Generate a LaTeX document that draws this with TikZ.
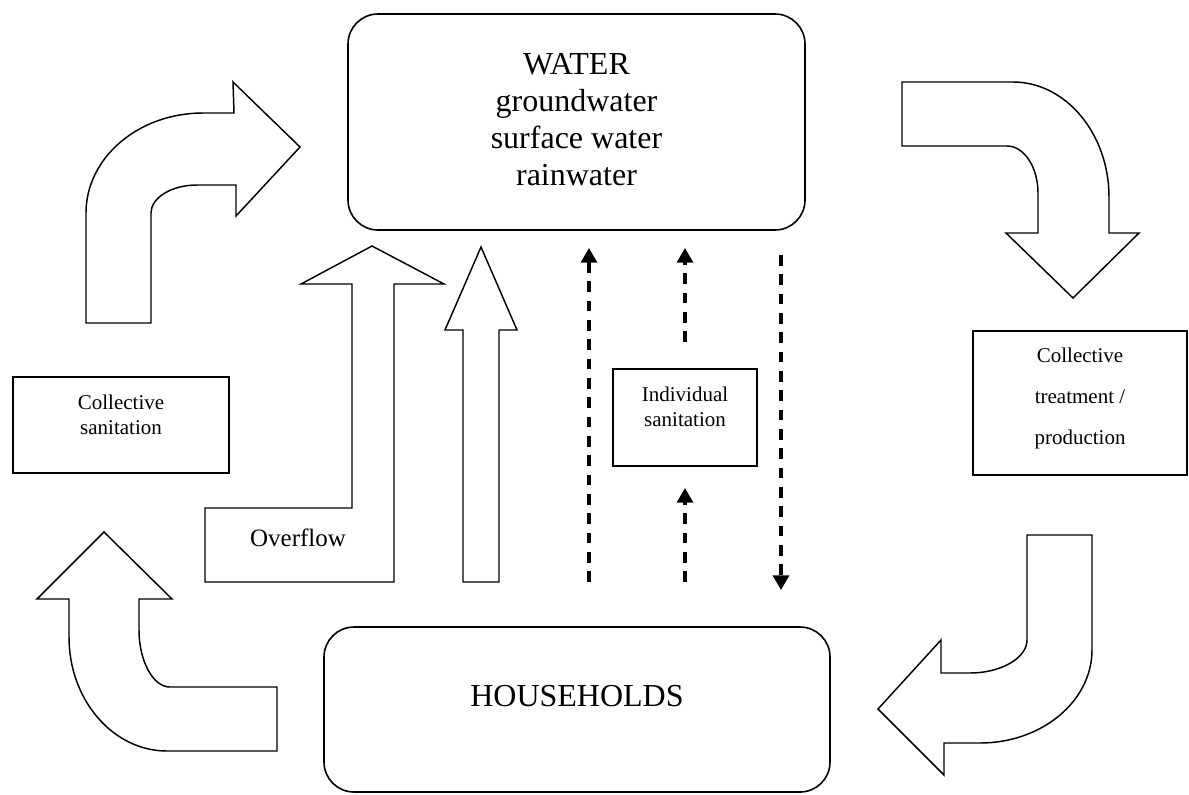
\documentclass[tikz,border=0pt]{standalone}
\usepackage{fontspec}
\setmainfont{Liberation Serif}
\usetikzlibrary{arrows.meta}
\begin{document}
\begin{tikzpicture}[x=0.75pt,y=-0.75pt,
  blockarrow/.style={draw=black, line width=1.1pt, line join=miter, fill=white},
  plainbox/.style={draw=black, line width=1.2pt, rectangle, inner sep=0pt},
  roundbox/.style={plainbox, rounded corners=22.5pt},
  bigtext/.style={font=\fontsize{24}{27.75}\selectfont, align=center, inner sep=0pt},
  midtext/.style={font=\fontsize{18.75}{22}\selectfont, inner sep=0pt},
  smalltext/.style={font=\fontsize{15.75}{18.75}\selectfont, align=center, inner sep=0pt},
  widetext/.style={font=\fontsize{15.75}{30.75}\selectfont, align=center, inner sep=0pt},
  dashflow/.style={line width=2.5pt, dash pattern=on 8pt off 6.5pt, -{Triangle[width=12pt,length=11pt]}}
]
\useasboundingbox (0,0) rectangle (1189,794);

% boxes
\node[roundbox, minimum width=342.75pt, minimum height=162pt] (water) at (576.5,122) {};
\node[bigtext] (watertext) at (576.5,120) {WATER\\groundwater\\surface water\\rainwater};

\node[roundbox, minimum width=379.5pt, minimum height=123.75pt] (households) at (577,709.5) {};
\node[bigtext] (householdstext) at (577,696) {HOUSEHOLDS};

\node[plainbox, minimum width=162pt, minimum height=72pt] (colsan) at (121,425) {};
\node[smalltext] (colsantext) at (121,414.5) {Collective\\sanitation};

\node[plainbox, minimum width=108pt, minimum height=72.75pt] (indsan) at (685,417.5) {};
\node[smalltext] (indsantext) at (685,406.5) {Individual\\sanitation};

\node[plainbox, minimum width=160.5pt, minimum height=108pt] (coltreat) at (1080,403) {};
\node[widetext] (coltreattext) at (1080,398) {Collective\\treatment /\\production};

% curved block arrows
\draw[blockarrow] (86,323) -- (86,213) .. controls (86,158) and (138,113) .. (203,113)
  -- (234,113) -- (233,82) -- (300,147) -- (236,216) -- (236,185) -- (197,185)
  .. controls (171,185) and (151,198) .. (151,213) -- (151,323) -- cycle;

\draw[blockarrow] (902,82) -- (1013,82) .. controls (1066,82) and (1109,134) .. (1109,197)
  -- (1109,233) -- (1139,233) -- (1073,298) -- (1006,233) -- (1038,233) -- (1038,193)
  .. controls (1038,167) and (1024,146) .. (1007,146) -- (902,146) -- cycle;

\draw[blockarrow] (1027,535) -- (1092,535) -- (1092,650) .. controls (1092,701) and (1042,743) .. (980,743)
  -- (944,743) -- (944,775) -- (878,709) -- (941,640) -- (941,673) -- (970,673)
  .. controls (1001,673) and (1027,658) .. (1027,640) -- cycle;

\draw[blockarrow] (104,532) -- (172,599) -- (139,599) -- (139,630)
  .. controls (139,661) and (153,687) .. (170,687) -- (277,687) -- (277,751) -- (167,751)
  .. controls (113,751) and (69,700) .. (69,637) -- (69,599) -- (37,599) -- cycle;

% straight block arrows
\draw[blockarrow] (372,246) -- (444,284) -- (394,284) -- (394,582) -- (205,582) -- (205,508)
  -- (352,508) -- (352,284) -- (301,284) -- cycle;
\node[midtext] (overflow) at (298,538) {Overflow};

\draw[blockarrow] (481,247) -- (517,330) -- (499,330) -- (499,582) -- (463,582) -- (463,330)
  -- (445,330) -- cycle;

% dashed arrows
\coordinate (d1s) at (589,582); \coordinate (d1e) at (589,248);
\coordinate (d2s) at (685,342); \coordinate (d2e) at (685,248);
\coordinate (d3s) at (685,582); \coordinate (d3e) at (685,488);
\coordinate (d4s) at (781,255); \coordinate (d4e) at (781,590);
\draw[dashflow] (d1s) -- (d1e);
\draw[dashflow] (d2s) -- (d2e);
\draw[dashflow] (d3s) -- (d3e);
\draw[dashflow] (d4s) -- (d4e);
\end{tikzpicture}
\end{document}
